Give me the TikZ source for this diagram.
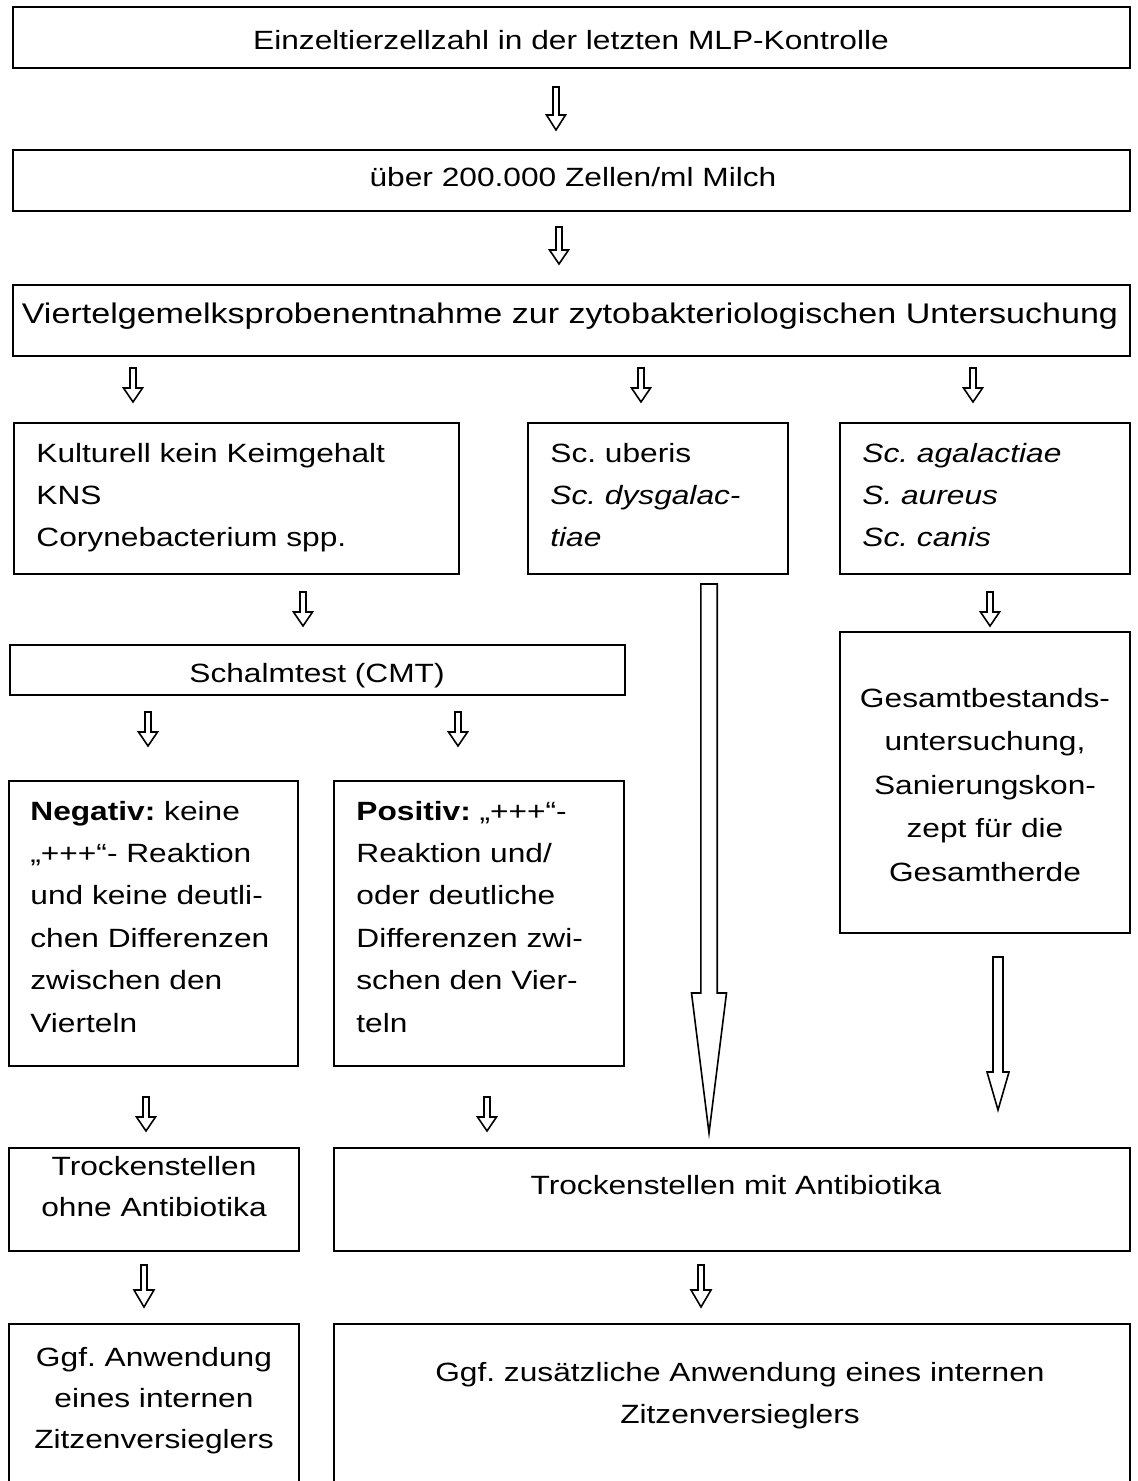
\documentclass[tikz,border=0pt]{standalone}
\usepackage{fontspec}
\setmainfont{Liberation Sans}[FakeStretch=1.2]
\usetikzlibrary{fit}
\frenchspacing
\newcommand{\df}{\fontsize{13.2}{21.2}\selectfont}
% #1 centre x, #2 top y, #3 head start y, #4 tip y, #5 half shaft, #6 half head
\newcommand{\harrow}[6]{%
  \draw[harr] (#1-#5,#2) -- (#1+#5,#2) -- (#1+#5,#3) -- (#1+#6,#3) -- (#1,#4)
    -- (#1-#6,#3) -- (#1-#5,#3) -- cycle;}
\begin{document}
\begin{tikzpicture}[x=0.5pt,y=-0.5pt,
  box/.style={draw, line width=1pt, inner sep=0pt},
  txt/.style={inner sep=0pt, font=\df},
  ctxt/.style={txt, anchor=base, align=center},
  ltxt/.style={txt, anchor=base west, align=left},
  harr/.style={draw, line width=0.8pt, line join=miter, fill=white}]
\useasboundingbox (0,0) rectangle (1137,1481);
\clip (0,0) rectangle (1137,1481);

% boxes
\node[box, fit={(13,7) (1130,68)}] (b1) {};
\node[box, fit={(13,150) (1130,211)}] (b2) {};
\node[box, fit={(13,285) (1130,356)}] (b3) {};
\node[box, fit={(14,423) (459,574)}] (b4) {};
\node[box, fit={(528,423) (788,574)}] (b5) {};
\node[box, fit={(840,423) (1130,574)}] (b6) {};
\node[box, fit={(10,645) (625,695)}] (b7) {};
\node[box, fit={(840,632) (1130,933)}] (b8) {};
\node[box, fit={(9,781) (298,1066)}] (b9) {};
\node[box, fit={(334,781) (624,1066)}] (b10) {};
\node[box, fit={(9,1148) (299,1251)}] (b11) {};
\node[box, fit={(334,1148) (1130,1251)}] (b12) {};
\node[box, fit={(9,1324) (299,1500)}] (b13) {};
\node[box, fit={(334,1324) (1130,1500)}] (b14) {};

% texts
\node[ctxt, text width=540pt] (t1) at (571,50) {Einzeltierzellzahl in der letzten MLP-Kontrolle};
\node[ctxt, text width=540pt] (t2) at (573,187) {über 200.000 Zellen/ml Milch};
\node[ctxt, text width=556pt, font=\fontsize{14.2}{21.2}\selectfont] (t3) at (570,324) {Viertelgemelksprobenentnahme zur zytobakteriologischen Untersuchung};
\node[ltxt, text width=215pt] (t4) at (36,462) {Kulturell kein Keimgehalt\\KNS\\Corynebacterium spp.};
\node[ltxt, text width=130pt] (t5) at (550,462) {Sc. uberis\\\textit{Sc. dysgalac-}\\\textit{tiae}};
\node[ltxt, text width=140pt] (t6) at (862,462) {\itshape Sc. agalactiae\\\itshape S. aureus\\\itshape Sc. canis};
\node[ctxt, text width=300pt] (t7) at (317,682) {Schalmtest (CMT)};
\node[ctxt, text width=150pt, font=\fontsize{13.2}{21.8}\selectfont] (t8) at (985,707) {Gesamtbestands-\\untersuchung,\\Sanierungskon-\\zept für die\\Gesamtherde};
\node[ltxt, text width=160pt] (t9) at (30,820) {\textbf{Negativ:} keine\\„+++“- Reaktion\\und keine deutli-\\chen Differenzen\\zwischen den\\Vierteln};
\node[ltxt, text width=160pt] (t10) at (356,820) {\textbf{Positiv:} „+++“-\\Reaktion und/\\oder deutliche\\Differenzen zwi-\\schen den Vier-\\teln};
\node[ctxt, text width=150pt, font=\fontsize{13.2}{20.6}\selectfont] (t11) at (154,1175) {Trockenstellen\\ohne Antibiotika};
\node[ctxt, text width=390pt] (t12) at (736,1194) {Trockenstellen mit Antibiotika};
\node[ctxt, text width=150pt, font=\fontsize{13.2}{20.6}\selectfont] (t13) at (154,1366) {Ggf. Anwendung\\eines internen\\Zitzenversieglers};
\node[ctxt, text width=390pt] (t14) at (740,1381) {Ggf. zusätzliche Anwendung eines internen\\Zitzenversieglers};

% small hollow arrows
\harrow{556}{87}{115}{130}{3}{9.5}
\harrow{559}{227}{250}{264}{3}{9.5}
\harrow{133}{368}{388}{402}{3}{9.5}
\harrow{641}{368}{388}{402}{3}{9.5}
\harrow{973}{368}{388}{402}{3}{9.5}
\harrow{303}{592}{612}{626}{3}{9.5}
\harrow{990}{592}{612}{626}{3}{9.5}
\harrow{148}{712}{732}{746}{3}{9.5}
\harrow{458}{712}{732}{746}{3}{9.5}
\harrow{146}{1097}{1117}{1131}{3}{9.5}
\harrow{487}{1097}{1117}{1131}{3}{9.5}
\harrow{144}{1265}{1290}{1307}{3}{10}
\harrow{701}{1265}{1290}{1307}{3}{10}

% long hollow arrows
\harrow{709}{584}{993}{1133}{8.2}{17.5}
\harrow{998}{957}{1072}{1110}{5}{11}
\end{tikzpicture}
\end{document}
